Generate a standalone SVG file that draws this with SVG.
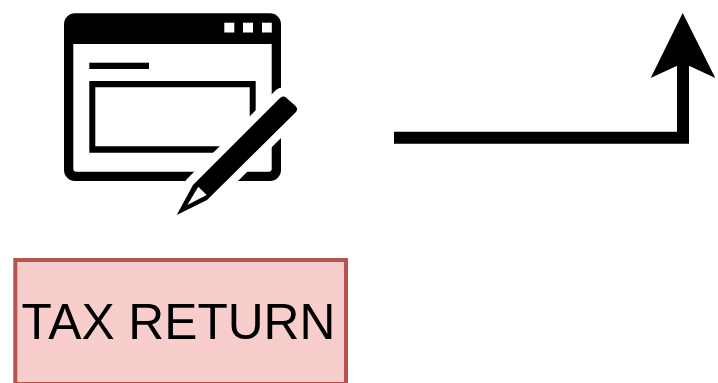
<svg xmlns="http://www.w3.org/2000/svg" width="718" height="383" viewBox="0 0 718 383">
<style>
.k{fill:#000}
.w{fill:#fff}
.c{fill:none;stroke:#000;stroke-width:12;stroke-linejoin:miter}
.lbl{font-family:"Liberation Sans",Arial,sans-serif;font-size:49.7px;fill:#000;text-anchor:middle}
</style>
<rect width="718" height="383" fill="#fff"/>
<g id="icon">
<rect class="k" x="64" y="13.3" width="217" height="167.7" rx="11" ry="11"/>
<path class="w" d="M73.3 44H271.7V168.7a3 3 0 0 1-3 3H76.3a3 3 0 0 1-3-3Z"/>
<rect class="w" x="224.3" y="22.7" width="10" height="9.8"/>
<rect class="w" x="243" y="22.7" width="10" height="9.8"/>
<rect class="w" x="262" y="22.7" width="9.8" height="9.8"/>
<rect class="k" x="89.3" y="62.7" width="59.7" height="6.3"/>
<path class="k" fill-rule="evenodd" d="M89.3 81H255.7V152.7H89.3ZM95.3 87.3V146.3H249.7V87.3Z"/>
<path d="M282 96L193 185L176.7 215L207 200L297 110Z" fill="#fff" stroke="#fff" stroke-width="17" stroke-linejoin="round"/>
<path class="k" d="M279.5 98.5Q283 95 286.5 98L295 105.5Q299 109 295.5 112.5L207 200L176.7 215L193 185Z"/>
<path class="w" d="M198.3 186.7L206.7 195L187.3 205Z"/>
</g>
<g id="connectors">
<path class="c" d="M394 137.7H683V60"/>
<path class="k" d="M682.7 13L715.3 78L683 63L650.7 78Z"/>
</g>
<g id="tax-return">
<rect x="15.3" y="260" width="330.7" height="124" fill="#f8cecc" stroke="#b85450" stroke-width="4"/>
<text class="lbl" x="178.5" y="339.3">TAX RETURN</text>
</g>
</svg>
